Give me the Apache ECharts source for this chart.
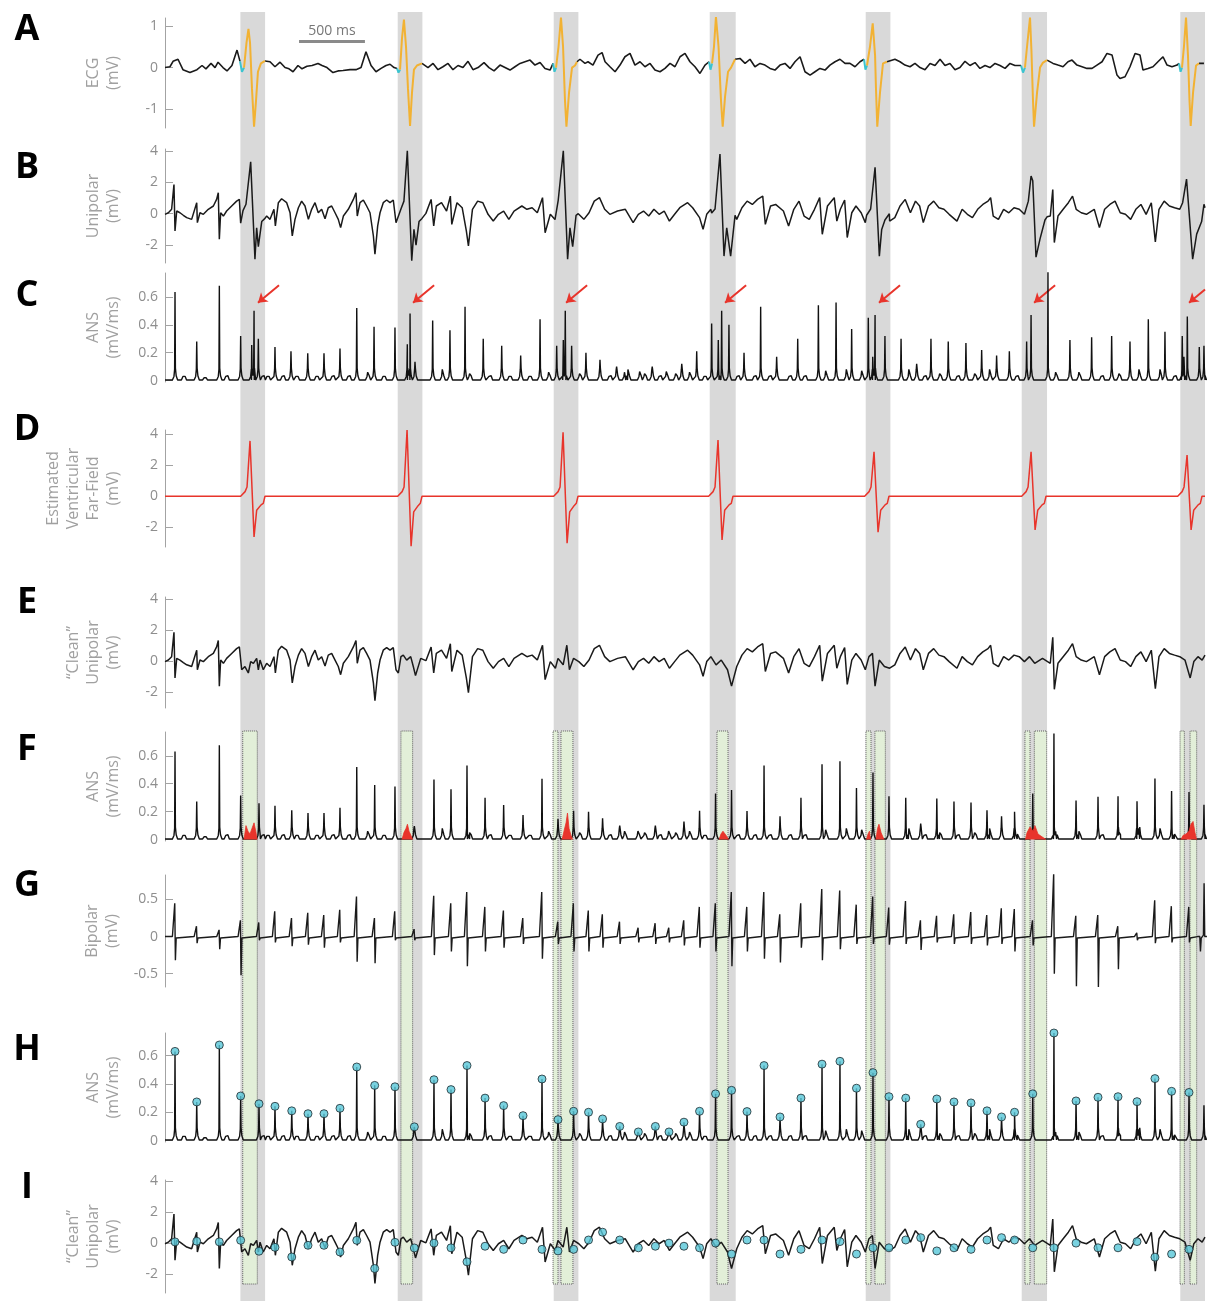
<!DOCTYPE html>
<html><head><meta charset="utf-8">
<script src="https://cdn.jsdelivr.net/npm/echarts@6/dist/echarts.min.js"></script>
<style>html,body{margin:0;padding:0;background:#fff}#c{width:1210px;height:1301px}</style>
</head><body><div id="c"></div>
<script>
// ---------------- DATA (time in ms, amplitudes in mV or mV/ms) ----------------
const bandsMs = [[580,770],[1790,1980],[2990,3180],[4190,4390],[5390,5580],[6590,6785],[7810,8000]];
const windowsMs = [[598,710],[1815,1905],[2985,3023],[3046,3138],[4246,4331],[5392,5431],[5461,5541],[6615,6654],[6687,6782],[7808,7841],[7885,7936]];

const ecgBlack = [
 [[0,0],[38,0.02],[62,0.15],[100,0.2],[138,-0.05],[192,-0.12],[246,-0.05],[285,0.05],[315,-0.03],[354,0.1],[385,0],[408,0.13],[446,0],[477,-0.08],[515,0.05],[554,0.42],[577,0.15]],
 [[769,0.16],[808,0.14],[846,0.02],[885,0.13],[923,0],[954,-0.03],[985,-0.1],[1023,0.05],[1054,-0.03],[1092,0.03],[1131,0.05],[1177,0.1],[1208,0.05],[1246,0],[1292,-0.12],[1331,-0.08],[1369,-0.07],[1423,-0.05],[1469,-0.05],[1508,0],[1546,0.38],[1585,0.05],[1623,-0.1],[1662,-0.02],[1700,0.05],[1731,0.08],[1762,0],[1785,-0.02]],
 [[1977,0.1],[2023,0],[2062,0.1],[2100,-0.05],[2138,0.02],[2177,0.1],[2215,-0.05],[2254,0.05],[2292,0],[2331,0.15],[2369,-0.05],[2408,0],[2454,0.12],[2492,0],[2531,-0.08],[2577,0.06],[2654,-0.06],[2692,0.02],[2731,0.1],[2769,0.14],[2808,0.18],[2846,0.06],[2885,0.12],[2923,-0.02],[2962,-0.06],[2985,0.1]],
 [[3169,0.14],[3192,0.2],[3231,0.1],[3254,0.14],[3292,0.06],[3331,0.3],[3362,0.36],[3385,0.14],[3423,0.02],[3462,-0.1],[3500,0.06],[3538,0.26],[3577,0.34],[3615,0.06],[3654,0.14],[3692,0.02],[3731,0.1],[3769,-0.06],[3808,-0.1],[3846,-0.02],[3885,0.1],[3923,0.02],[3962,0.26],[4000,0.34],[4038,0.14],[4077,0.02],[4115,-0.14],[4154,0.06],[4185,0.14]],
 [[4385,0.2],[4423,0.22],[4462,0.1],[4500,0.2],[4538,0.02],[4577,0.1],[4615,0.06],[4654,-0.02],[4692,-0.06],[4731,0.06],[4769,0.1],[4808,-0.02],[4846,0.14],[4885,0.26],[4923,-0.1],[4962,-0.18],[5000,-0.1],[5038,-0.02],[5077,-0.06],[5115,0.06],[5154,0.14],[5192,0.2],[5231,0.1],[5269,0.1],[5308,0.02],[5346,0.14],[5377,0.2]],
 [[5554,0.14],[5615,0.2],[5654,0.14],[5692,0.06],[5731,0.02],[5769,0.1],[5808,0],[5846,-0.05],[5885,0.1],[5923,0.05],[5962,0.2],[6000,0.05],[6038,0.1],[6077,-0.05],[6115,0],[6154,0.15],[6192,0.05],[6231,0.12],[6269,-0.02],[6308,0.05],[6346,0],[6385,0.1],[6423,0.05],[6462,-0.02],[6500,0.1],[6538,0.05],[6585,0.05]],
 [[6785,0.18],[6831,0.1],[6869,0.06],[6908,0.02],[6946,0.14],[6977,0.18],[7015,0.06],[7054,0.02],[7092,-0.02],[7131,-0.02],[7169,0.06],[7208,0.14],[7246,0.34],[7285,0.3],[7323,-0.18],[7346,-0.26],[7385,-0.22],[7423,0.02],[7462,0.34],[7500,0.3],[7523,-0.06],[7562,-0.02],[7600,0.02],[7638,0.14],[7677,0.26],[7708,0.06],[7746,0.02],[7785,0.06],[7800,0.1]],
 [[7954,0.1],[7992,0.1]]
];
const ecgQrs = [
 [[608,0],[627,0.6],[642,0.93],[654,0.6],[669,-0.5],[685,-1.42],[700,-0.8],[715,-0.1],[738,0.1],[769,0.16]],
 [[1808,-0.05],[1823,0.7],[1838,1.15],[1854,0.5],[1869,-0.5],[1885,-1.4],[1900,-0.6],[1915,-0.05],[1938,0.05],[1977,0.1]],
 [[3008,0],[3027,0.5],[3046,1.2],[3062,0.5],[3077,-0.8],[3088,-1.42],[3108,-0.6],[3131,0],[3154,0.05],[3169,0.14]],
 [[4208,0.1],[4223,0.5],[4238,1.22],[4258,0.5],[4277,-0.8],[4290,-1.42],[4308,-0.7],[4331,-0.1],[4354,0],[4385,0.2]],
 [[5400,0.05],[5423,0.5],[5444,1.06],[5462,0.3],[5469,-0.5],[5479,-1.42],[5500,-0.6],[5523,0.1],[5554,0.14]],
 [[6615,0],[6631,0.5],[6654,1.2],[6665,0.4],[6677,-0.8],[6685,-1.42],[6708,-0.6],[6731,0],[6754,0.12],[6785,0.18]],
 [[7823,0],[7838,0.5],[7854,1.2],[7869,0.3],[7881,-0.8],[7890,-1.4],[7908,-0.6],[7931,0.05],[7954,0.1]]
];
const ecgOnset = [
 [[577,0.15],[592,-0.1],[608,0]],[[1785,-0.02],[1796,-0.12],[1808,-0.05]],[[2985,0.1],[2996,-0.1],[3008,0]],
 [[4185,0.14],[4196,-0.05],[4208,0.1]],[[5377,0.2],[5388,-0.05],[5400,0.05]],[[6585,0.05],[6600,-0.12],[6615,0]],[[7800,0.1],[7812,-0.1],[7823,0]]
];

const cleanUni = [[0,-0.04],[26,0.06],[51,0.28],[69,1.86],[77,-1.1],[90,0.17],[115,0.06],[141,-0.1],[167,-0.25],[205,-0.36],[244,0.7],[249,-0.57],[269,0.06],[295,-0.04],[333,0.28],[372,0.49],[397,0.91],[410,1.33],[418,-1.63],[428,0.06],[449,-0.15],[474,0.17],[513,0.49],[551,0.8],[572,0.91],[590,-0.57],[615,-0.36],[641,-0.78],[659,-0.04],[680,-0.15],[705,0.17],[718,-0.57],[731,0.06],[756,-0.57],[782,-0.15],[808,-0.36],[838,0.28],[849,-0.78],[872,0.7],[897,0.95],[936,0.7],[962,0.06],[979,-1.42],[1000,-0.36],[1026,0.38],[1051,0.8],[1077,0.49],[1103,-0.36],[1128,0.28],[1154,0.7],[1179,0.06],[1205,0.28],[1231,-0.32],[1256,0.38],[1282,0.49],[1308,0.06],[1333,-0.36],[1351,-0.89],[1372,-0.15],[1410,0.28],[1449,0.91],[1469,1.33],[1479,-0.15],[1500,0.7],[1526,0.87],[1551,0.49],[1577,0.06],[1603,-1.42],[1615,-2.58],[1636,-0.78],[1654,0.06],[1679,0.7],[1705,0.87],[1731,0.7],[1756,0.87],[1777,-0.57],[1795,-0.78],[1815,0.28],[1833,0.38],[1859,0.06],[1890,0.28],[1910,-0.36],[1927,-0.95],[1967,0.17],[2007,0.02],[2047,0.91],[2067,-0.78],[2087,0.49],[2127,0.7],[2166,0.17],[2195,1.12],[2206,-0.68],[2246,0.7],[2286,0.38],[2318,-1.1],[2334,-2.05],[2365,0.28],[2405,0.8],[2445,0.7],[2485,-0.04],[2525,-0.47],[2565,-0.04],[2605,0.17],[2645,-0.36],[2685,0.17],[2745,0.49],[2784,0.28],[2824,0.38],[2864,0.06],[2904,1.02],[2924,-1.21],[2964,-0.04],[3003,-0.47],[3023,0.17],[3063,-0.25],[3091,1.02],[3111,-0.57],[3143,0.17],[3183,-0.04],[3222,-0.36],[3262,0.06],[3302,0.8],[3342,1.02],[3382,0.28],[3422,-0.04],[3481,0.17],[3541,0.28],[3601,-0.57],[3641,-0.04],[3681,0.17],[3721,-0.15],[3761,0.28],[3801,-0.04],[3840,0.17],[3880,-0.47],[3920,-0.04],[3960,0.38],[4020,0.7],[4059,0.38],[4112,-0.25],[4139,-0.99],[4167,-0.04],[4199,0.28],[4239,-0.25],[4279,0.06],[4327,-0.57],[4358,-1.63],[4398,-0.36],[4438,0.38],[4478,0.8],[4518,0.59],[4558,0.91],[4598,1.12],[4618,-0.68],[4658,0.49],[4697,0.59],[4757,0.17],[4797,-0.78],[4837,0.28],[4877,0.8],[4916,-0.15],[4956,-0.36],[4996,0.28],[5036,1.02],[5056,-1.31],[5096,0.49],[5148,1.02],[5168,-0.47],[5195,0.28],[5228,0.87],[5248,-1.52],[5283,0.06],[5315,0.49],[5355,0.06],[5387,-0.57],[5415,0.28],[5442,0.49],[5462,-1.63],[5494,0.06],[5534,-0.36],[5574,-0.47],[5614,-0.25],[5654,0.49],[5694,0.91],[5734,0.06],[5773,0.8],[5805,0.49],[5833,-0.57],[5873,0.49],[5913,0.8],[5953,0.38],[5992,0.28],[6032,-0.04],[6092,-0.47],[6132,0.28],[6172,-0.04],[6211,-0.25],[6251,0.28],[6291,0.59],[6331,0.8],[6351,1.02],[6371,-0.15],[6411,-0.36],[6451,0.28],[6491,0.06],[6531,0.38],[6571,0.28],[6611,-0.04],[6650,0.28],[6690,-0.15],[6750,0.17],[6810,-0.15],[6829,1.54],[6841,-1.84],[6869,-0.15],[6909,0.28],[6949,0.7],[6981,1.12],[7009,0.28],[7048,0.06],[7088,-0.04],[7148,0.28],[7188,-0.89],[7228,0.28],[7268,0.59],[7308,0.8],[7348,0.06],[7388,-0.04],[7428,-0.36],[7468,0.28],[7507,0.59],[7547,-0.04],[7587,0.7],[7618,-1.8],[7646,0.28],[7686,0.8],[7726,0.49],[7766,0.38],[7806,0.28],[7846,0.06],[7886,-1.1],[7914,-0.04],[7946,0.28],[7978,0.06],[8000,0.38]];

// raw unipolar inside the grey windows (outside them it equals the clean signal)
const rawUniBands = [
 [[582,-0.6],[600,0.2],[623,0.6],[659,3.3],[692,-2.9],[705,-0.9],[718,-2.1],[744,-0.5],[769,-0.3]],
 [[1792,-0.6],[1815,0.3],[1838,0.8],[1864,4.0],[1898,-3.0],[1915,-1.0],[1931,-2.0],[1954,-0.5],[1977,-0.3]],
 [[3000,-0.37],[3025,0.87],[3064,4.0],[3097,-2.9],[3115,-0.9],[3136,-2.1],[3162,-0.1],[3179,0]],
 [[4205,0.04],[4231,0.3],[4269,3.8],[4300,-2.7],[4321,-0.9],[4351,-2.7],[4385,-0.1]],
 [[5397,-0.1],[5428,0.3],[5462,2.96],[5495,-2.7],[5513,-1.0],[5538,-0.4],[5572,0]],
 [[6615,0],[6641,0.8],[6662,2.4],[6675,2.1],[6700,-2.77],[6731,-1.6],[6769,-0.4],[6785,-0.2]],
 [[7828,0.7],[7858,2.2],[7869,2.1],[7905,-2.9],[7936,-1.3],[7974,-0.5],[7992,0.6]]
];

const farField = [
 [[582,0],[616,0.3],[631,0.6],[654,3.55],[685,-2.6],[705,-0.9],[739,-0.55],[756,-0.45],[769,0]],
 [[1790,0],[1824,0.3],[1839,0.6],[1862,4.25],[1893,-3.2],[1913,-1.0],[1947,-0.6],[1964,-0.45],[1977,0]],
 [[2990,0],[3024,0.3],[3039,0.6],[3062,4.1],[3093,-3.0],[3113,-1.0],[3147,-0.6],[3164,-0.45],[3177,0]],
 [[4182,0],[4216,0.3],[4231,0.6],[4254,3.6],[4285,-2.8],[4305,-0.9],[4339,-0.55],[4356,-0.45],[4369,0]],
 [[5382,0],[5416,0.3],[5431,0.6],[5454,2.85],[5485,-2.3],[5505,-0.9],[5539,-0.55],[5556,-0.45],[5569,0]],
 [[6590,0],[6624,0.3],[6639,0.6],[6662,2.85],[6693,-2.15],[6713,-0.9],[6747,-0.55],[6764,-0.45],[6777,0]],
 [[7790,0],[7824,0.3],[7839,0.6],[7862,2.65],[7893,-2.15],[7913,-0.9],[7947,-0.55],[7964,-0.45],[7977,0]]
];

// ANS of raw unipolar (panel C): spike times and heights
const ansRawPeaks = [[77,0.635],[244,0.28],[418,0.68],[582,0.32],[667,0.255],[685,0.5],[718,0.3],[846,0.24],[969,0.21],[1098,0.195],[1223,0.195],[1346,0.23],[1475,0.52],[1608,0.385],[1769,0.38],[1864,0.26],[1885,0.48],[1923,0.135],[2059,0.43],[2192,0.36],[2308,0.53],[2448,0.3],[2590,0.25],[2736,0.18],[2885,0.44],[3013,0.25],[3064,0.29],[3079,0.5],[3128,0.25],[3238,0.2],[3346,0.15],[3474,0.1],[3564,0.08],[3654,0.065],[3748,0.1],[3859,0.065],[3975,0.12],[4090,0.21],[4205,0.41],[4256,0.29],[4282,0.5],[4338,0.4],[4454,0.2],[4582,0.53],[4705,0.17],[4867,0.3],[5026,0.54],[5162,0.56],[5282,0.37],[5410,0.45],[5444,0.17],[5462,0.47],[5538,0.32],[5662,0.3],[5782,0.12],[5892,0.3],[6025,0.28],[6161,0.27],[6282,0.22],[6397,0.18],[6495,0.21],[6628,0.28],[6662,0.47],[6792,0.78],[6961,0.29],[7128,0.31],[7282,0.32],[7423,0.28],[7564,0.44],[7692,0.35],[7825,0.32],[7838,0.17],[7864,0.46],[7956,0.24]];
// detected activations (panels F/H peaks, I markers, G deflections)
const actTimes = [77,244,418,582,723,846,975,1100,1223,1346,1475,1613,1769,1918,2069,2200,2323,2462,2605,2754,2900,3023,3143,3258,3366,3498,3641,3772,3877,3992,4112,4235,4358,4477,4608,4731,4892,5054,5192,5319,5446,5569,5698,5813,5937,6069,6200,6323,6435,6535,6675,6838,7008,7177,7331,7477,7615,7743,7877];
const ansCleanPeak = [0.63,0.273,0.675,0.315,0.26,0.242,0.21,0.19,0.19,0.228,0.52,0.39,0.38,0.097,0.43,0.36,0.53,0.3,0.247,0.176,0.435,0.148,0.207,0.2,0.153,0.1,0.061,0.1,0.061,0.13,0.207,0.33,0.355,0.205,0.53,0.167,0.3,0.54,0.56,0.37,0.48,0.31,0.3,0.115,0.294,0.273,0.266,0.21,0.167,0.2,0.33,0.76,0.28,0.306,0.31,0.275,0.438,0.348,0.34];
const cleanAtAct = [0.08,0.12,0.08,0.18,-0.52,-0.27,-0.89,-0.14,-0.14,-0.57,0.18,-1.63,0.05,-0.31,0,-0.3,-1.2,-0.2,-0.4,0.2,-0.4,-0.5,-0.4,0.2,0.7,0.2,-0.3,-0.2,0,-0.2,-0.3,0,-0.7,0.2,0.2,-0.7,-0.4,0.2,0.1,-0.7,-0.3,-0.3,0.2,0.35,-0.5,-0.3,-0.4,0.2,0.35,0.2,-0.3,-0.3,0,-0.3,-0.3,0.1,-0.9,-0.7,-0.4];
const ansSmall = [[146,0.03],[308,0.02],[475,0.04],[754,0.04],[792,0.03],[908,0.04],[1015,0.03],[1169,0.03],[1292,0.04],[1415,0.04],[1562,0.06],[1685,0.03],[2136,0.09],[2346,0.05],[2500,0.04],[2654,0.03],[2808,0.03],[2954,0.06],[3192,0.05],[3423,0.04],[3538,0.06],[3692,0.05],[3808,0.04],[3931,0.05],[4038,0.06],[4154,0.03],[4408,0.04],[4538,0.04],[4654,0.04],[4808,0.04],[4923,0.04],[5085,0.07],[5244,0.09],[5362,0.07],[5725,0.09],[5846,0.04],[5962,0.05],[6100,0.04],[6231,0.05],[6346,0.08],[6554,0.04],[6854,0.06],[7033,0.06],[7208,0.04],[7341,0.05],[7495,0.09],[7657,0.08],[7769,0.04],[7992,0.25]];
// residual ANS inside the excluded windows (red, panel F)
const ansResidual = [
 [[608,0],[623,0.1],[638,0.06],[654,0.04],[669,0.08],[685,0.12],[700,0.05],[708,0]],
 [[1823,0],[1838,0.05],[1854,0.08],[1865,0.11],[1877,0.06],[1892,0.03],[1904,0]],
 [[3054,0],[3069,0.06],[3085,0.12],[3096,0.19],[3108,0.08],[3123,0.03],[3135,0]],
 [[4262,0],[4277,0.04],[4292,0.06],[4308,0.04],[4323,0.02],[4335,0]],
 [[5396,0],[5408,0.04],[5419,0.06],[5427,0]],
 [[5469,0],[5481,0.08],[5492,0.11],[5508,0.05],[5531,0]],
 [[6619,0],[6631,0.05],[6654,0.09],[6677,0.06],[6692,0.1],[6715,0.04],[6746,0.02],[6777,0]],
 [[7815,0],[7831,0.03],[7854,0.04],[7877,0.06],[7892,0.11],[7908,0.13],[7923,0.05],[7935,0]]
];
// bipolar deflections at each activation: positive and negative peak
const bipUp = [0.45,0.14,0.09,0.22,0.19,0.34,0.25,0.32,0.29,0.36,0.54,0.25,0.34,0.1,0.55,0.45,0.6,0.4,0.35,0.25,0.6,0.2,0.45,0.35,0.3,0.2,0.12,0.18,0.12,0.22,0.4,0.45,0.6,0.4,0.6,0.3,0.45,0.64,0.62,0.43,0.54,0.39,0.48,0.22,0.28,0.3,0.33,0.29,0.38,0.37,0.22,0.85,0.28,0.29,0.14,0.05,0.49,0.41,0.4];
const bipDown = [-0.32,-0.09,-0.17,-0.52,-0.05,-0.08,-0.13,-0.11,-0.15,-0.08,-0.34,-0.36,-0.05,-0.05,-0.25,-0.2,-0.4,-0.2,-0.15,-0.1,-0.3,-0.1,-0.2,-0.2,-0.15,-0.1,-0.08,-0.1,-0.08,-0.12,-0.15,-0.2,-0.4,-0.2,-0.3,-0.35,-0.15,-0.32,-0.17,-0.1,-0.1,-0.11,-0.1,-0.18,-0.08,-0.1,-0.1,-0.12,-0.1,-0.2,-0.12,-0.5,-0.67,-0.68,-0.44,-0.05,-0.09,-0.08,-0.08];
const bipExtra = [[7962,0,-0.2],[7995,0.72,0]];

// annotations
const arrowsC = [[[877,0.683],[715,0.558]],[[2070,0.683],[1908,0.558]],[[3247,0.683],[3085,0.558]],[[4470,0.683],[4308,0.558]],[[5654,0.683],[5492,0.558]],[[6847,0.683],[6685,0.558]],[[8000,0.653],[7877,0.558]]];
const scaleBar = {from:1031, to:1538, y:0.62, label:'500 ms'};

const panelLetters = ['A','B','C','D','E','F','G','H','I'];
const axisNames = ['ECG\n(mV)','Unipolar\n(mV)','ANS\n(mV/ms)','Estimated\nVentricular\nFar-Field\n(mV)','\u201CClean\u201D\nUnipolar\n(mV)','ANS\n(mV/ms)','Bipolar\n(mV)','ANS\n(mV/ms)','\u201CClean\u201D\nUnipolar\n(mV)'];
const axisTicks = [[-1,0,1],[-2,0,2,4],[0,0.2,0.4,0.6],[-2,0,2,4],[-2,0,2,4],[0,0.2,0.4,0.6],[-0.5,0,0.5],[0,0.2,0.4,0.6],[-2,0,2,4]];
const axisRange = [[-1.45,1.19],[-3.14,4.12],[-0.01,0.771],[-3.25,4.25],[-3.05,4.15],[-0.01,0.77],[-0.68,0.83],[-0.01,0.76],[-3.2,4.05]];

// ---------------- LAYOUT ----------------
const gridTops = [18,149,273,430,597,732,875,1033,1180];
const gridHeights = [110,114,109,117,111,109,112,109,113];
const letterY = [30,168,296,430,603,750,886,1050,1188];

// ---------------- BUILDERS ----------------
function joinSegs(segs){const out=[];segs.forEach((s,i)=>{if(i)out.push([s[0][0],null]);s.forEach(p=>out.push(p));});return out;}
function spikes(peaks){
  const pts=[[0,0.004]];
  peaks.forEach(([t,h])=>{
    pts.push([t-20,0.004],[t-8,Math.min(h,0.03)],[t-3,Math.min(h,0.08)],[t,h],[t+3,Math.min(h,0.09)],[t+9,Math.min(h,0.035)],[t+20,0.004]);
  });
  pts.push([8000,0.004]);
  pts.sort((a,b)=>a[0]-b[0]);
  return pts;
}
function rawUni(){
  const spans=rawUniBands.map(s=>[s[0][0],s[s.length-1][0]]);
  const pts=cleanUni.filter(p=>!spans.some(([a,b])=>p[0]>=a&&p[0]<=b));
  rawUniBands.forEach(s=>s.forEach(p=>pts.push(p)));
  pts.sort((a,b)=>a[0]-b[0]);
  return pts;
}
function bipolar(){
  const list=actTimes.map((t,i)=>[t,bipUp[i],bipDown[i]]).concat(bipExtra);
  const pts=[[0,0]];
  list.forEach(([t,u,d])=>{pts.push([t-20,0],[t-7,0.02],[t-2,u],[t+3,d],[t+9,-0.02],[t+20,0]);});
  pts.push([8000,0]);
  pts.sort((a,b)=>a[0]-b[0]);
  return pts;
}
const cleanPeaks = actTimes.map((t,i)=>[t,ansCleanPeak[i]]).concat(ansSmall);
const rawPeaks = ansRawPeaks.concat(ansSmall);
const ffData = [[0,0]].concat(...farField,[[8000,0]]);

// ---------------- CHART ----------------
const FONT = '"Open Sans", "DejaVu Sans", sans-serif';
const AX = '#a3a3a3';
const grid=[], xAxis=[], yAxis=[];
for(let i=0;i<9;i++){
  grid.push({left:165,width:1040,top:gridTops[i],height:gridHeights[i]});
  xAxis.push({type:'value',gridIndex:i,min:0,max:8000,show:false});
  yAxis.push({type:'value',gridIndex:i,min:axisRange[i][0],max:axisRange[i][1],
    axisLine:{show:true,onZero:false,lineStyle:{color:AX,width:1}},
    axisTick:{show:true,inside:true,length:8,lineStyle:{color:AX},customValues:axisTicks[i]},
    axisLabel:{customValues:axisTicks[i],color:'#8e8e8e',fontSize:14,fontFamily:FONT,margin:7},
    splitLine:{show:false},
    name:axisNames[i],nameLocation:'middle',nameRotate:90,nameGap:42,
    nameTextStyle:{color:'#a0a0a0',fontSize:16,lineHeight:20,fontFamily:FONT,align:'center'}});
}
// background grids for grey bands and green windows
grid.push({left:165,width:1040,top:12,bottom:0});
xAxis.push({type:'value',gridIndex:9,min:0,max:8000,show:false});
yAxis.push({type:'value',gridIndex:9,min:0,max:1,show:false});
grid.push({left:165,width:1040,top:731,height:553});
xAxis.push({type:'value',gridIndex:10,min:0,max:8000,show:false});
yAxis.push({type:'value',gridIndex:10,min:0,max:1,show:false});

const lineBase = {type:'line',showSymbol:false,symbol:'none',silent:true,animation:false,connectNulls:false,z:5};
function L(i,data,color,width,extra){return Object.assign({},lineBase,{xAxisIndex:i,yAxisIndex:i,data:data,lineStyle:{color:color,width:width},itemStyle:{color:color}},extra||{});}

const series = [
  {type:'line',xAxisIndex:9,yAxisIndex:9,data:[],silent:true,z:0,
   markArea:{silent:true,itemStyle:{color:'#d9d9d9'},data:bandsMs.map(b=>[{xAxis:b[0]},{xAxis:b[1]}])}},
  {type:'line',xAxisIndex:10,yAxisIndex:10,data:[],silent:true,z:1,
   markArea:{silent:true,itemStyle:{color:'#e2efd8',borderColor:'#5e5e5e',borderWidth:1,borderType:'dotted'},data:windowsMs.map(b=>[{xAxis:b[0]},{xAxis:b[1]}])}},
  // A
  L(0,joinSegs(ecgBlack),'#1a1a1a',1.6,{markLine:{silent:true,symbol:['none','none'],animation:false,
     lineStyle:{color:'#8a8a8a',width:3,type:'solid'},
     label:{show:true,position:'insideMiddleTop',formatter:scaleBar.label,color:'#777',fontSize:14,fontFamily:FONT,distance:4},
     data:[[{coord:[scaleBar.from,scaleBar.y]},{coord:[scaleBar.to,scaleBar.y]}]]}}),
  L(0,joinSegs(ecgOnset),'#3cc4cf',2),
  L(0,joinSegs(ecgQrs),'#f2b233',2),
  // B
  L(1,rawUni(),'#1a1a1a',1.5),
  // C
  L(2,spikes(rawPeaks),'#111',1.4,{markLine:{silent:true,animation:false,symbol:['none','arrow'],symbolSize:9,
     lineStyle:{color:'#e8342b',width:2,type:'solid'},label:{show:false},
     data:arrowsC.map(a=>[{coord:a[0]},{coord:a[1]}])}}),
  // D
  L(3,ffData,'#e8342b',1.5),
  // E
  L(4,cleanUni,'#1a1a1a',1.5),
  // F
  L(5,spikes(cleanPeaks),'#111',1.4),
  L(5,joinSegs(ansResidual),'#e8342b',0.8,{areaStyle:{color:'#e8342b',opacity:1},z:6}),
  // G
  L(6,bipolar(),'#1a1a1a',1.4),
  // H
  L(7,spikes(cleanPeaks),'#111',1.4),
  {type:'scatter',xAxisIndex:7,yAxisIndex:7,silent:true,animation:false,z:7,symbol:'circle',symbolSize:8,
   itemStyle:{color:'#58c7d8',borderColor:'#1e2a30',borderWidth:1},data:actTimes.map((t,i)=>[t,ansCleanPeak[i]])},
  // I
  L(8,cleanUni,'#1a1a1a',1.5),
  {type:'scatter',xAxisIndex:8,yAxisIndex:8,silent:true,animation:false,z:7,symbol:'circle',symbolSize:8,
   itemStyle:{color:'#58c7d8',borderColor:'#1e2a30',borderWidth:1},data:actTimes.map((t,i)=>[t,cleanAtAct[i]])}
];

const graphic = panelLetters.map((l,i)=>({type:'text',x:27,y:letterY[i],silent:true,
  style:{text:l,fill:'#000',font:'bold 36px '+FONT,textAlign:'center',textVerticalAlign:'middle'}}));

const chart = echarts.init(document.getElementById('c'),null,{renderer:'canvas'});
chart.setOption({animation:false,backgroundColor:'#fff',grid,xAxis,yAxis,series,graphic});
</script></body></html>
